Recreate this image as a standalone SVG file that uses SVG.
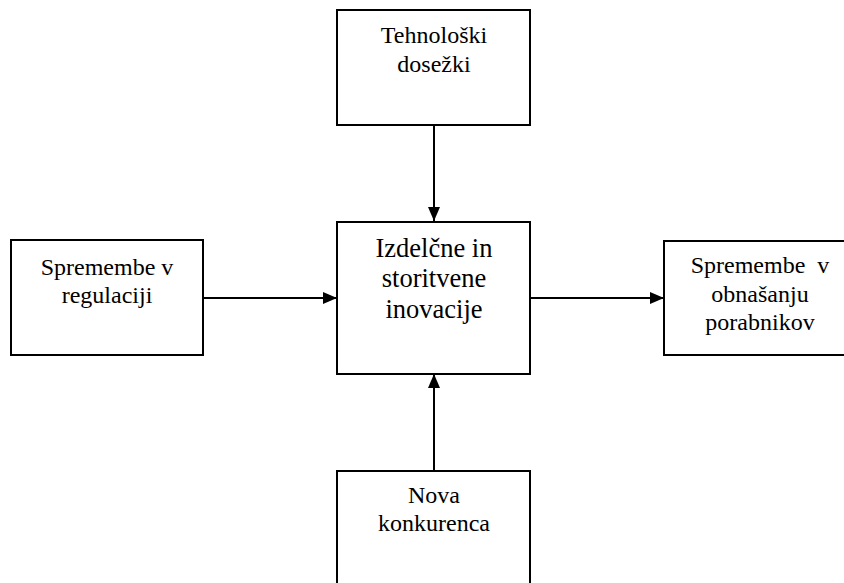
<svg xmlns="http://www.w3.org/2000/svg" width="844" height="583" viewBox="0 0 844 583">
<style>
.box{fill:#fff;stroke:#000;stroke-width:2}
.t{font-family:'Liberation Serif','DejaVu Serif',serif;font-size:24px;fill:#000;text-anchor:middle}
.tc{font-size:26.5px}
.c{stroke:#000;stroke-width:2;fill:none}
</style>
<defs>
<marker id="ah" markerWidth="14" markerHeight="12" refX="14" refY="6" orient="auto" markerUnits="userSpaceOnUse">
<path d="M0,0 L14,6 L0,12 Z" fill="#000"/>
</marker>
</defs>
<rect width="844" height="583" fill="#fff"/>
<g id="connectors">
<line class="c" x1="434" y1="125" x2="434" y2="221" marker-end="url(#ah)"/>
<line class="c" x1="203" y1="298" x2="337" y2="298" marker-end="url(#ah)"/>
<line class="c" x1="530" y1="298" x2="664" y2="298" marker-end="url(#ah)"/>
<line class="c" x1="434" y1="471" x2="434" y2="374" marker-end="url(#ah)"/>
</g>
<g id="top">
<rect class="box" x="337" y="10" width="193" height="115"/>
<text class="t" x="434" y="43" font-family="Liberation Serif">Tehnološki</text>
<text class="t" x="434" y="72" font-family="Liberation Serif">dosežki</text>
</g>
<g id="left">
<rect class="box" x="11" y="240" width="192" height="115"/>
<text class="t" x="107" y="275" font-family="Liberation Serif">Spremembe v</text>
<text class="t" x="107" y="303" font-family="Liberation Serif">regulaciji</text>
</g>
<g id="center">
<rect class="box" x="337" y="222" width="193" height="152"/>
<text class="t tc" x="434" y="257" font-family="Liberation Serif">Izdelčne in</text>
<text class="t tc" x="434" y="287" font-family="Liberation Serif">storitvene</text>
<text class="t tc" x="434" y="318" font-family="Liberation Serif">inovacije</text>
</g>
<g id="right">
<rect class="box" x="664" y="241" width="192" height="114"/>
<text class="t" x="760" y="273" xml:space="preserve" font-family="Liberation Serif">Spremembe  v</text>
<text class="t" x="760" y="302" font-family="Liberation Serif">obnašanju</text>
<text class="t" x="760" y="330" font-family="Liberation Serif">porabnikov</text>
</g>
<g id="bottom">
<rect class="box" x="337" y="471" width="193" height="130"/>
<text class="t" x="434" y="503" font-family="Liberation Serif">Nova</text>
<text class="t" x="434" y="531" font-family="Liberation Serif">konkurenca</text>
</g>
</svg>
